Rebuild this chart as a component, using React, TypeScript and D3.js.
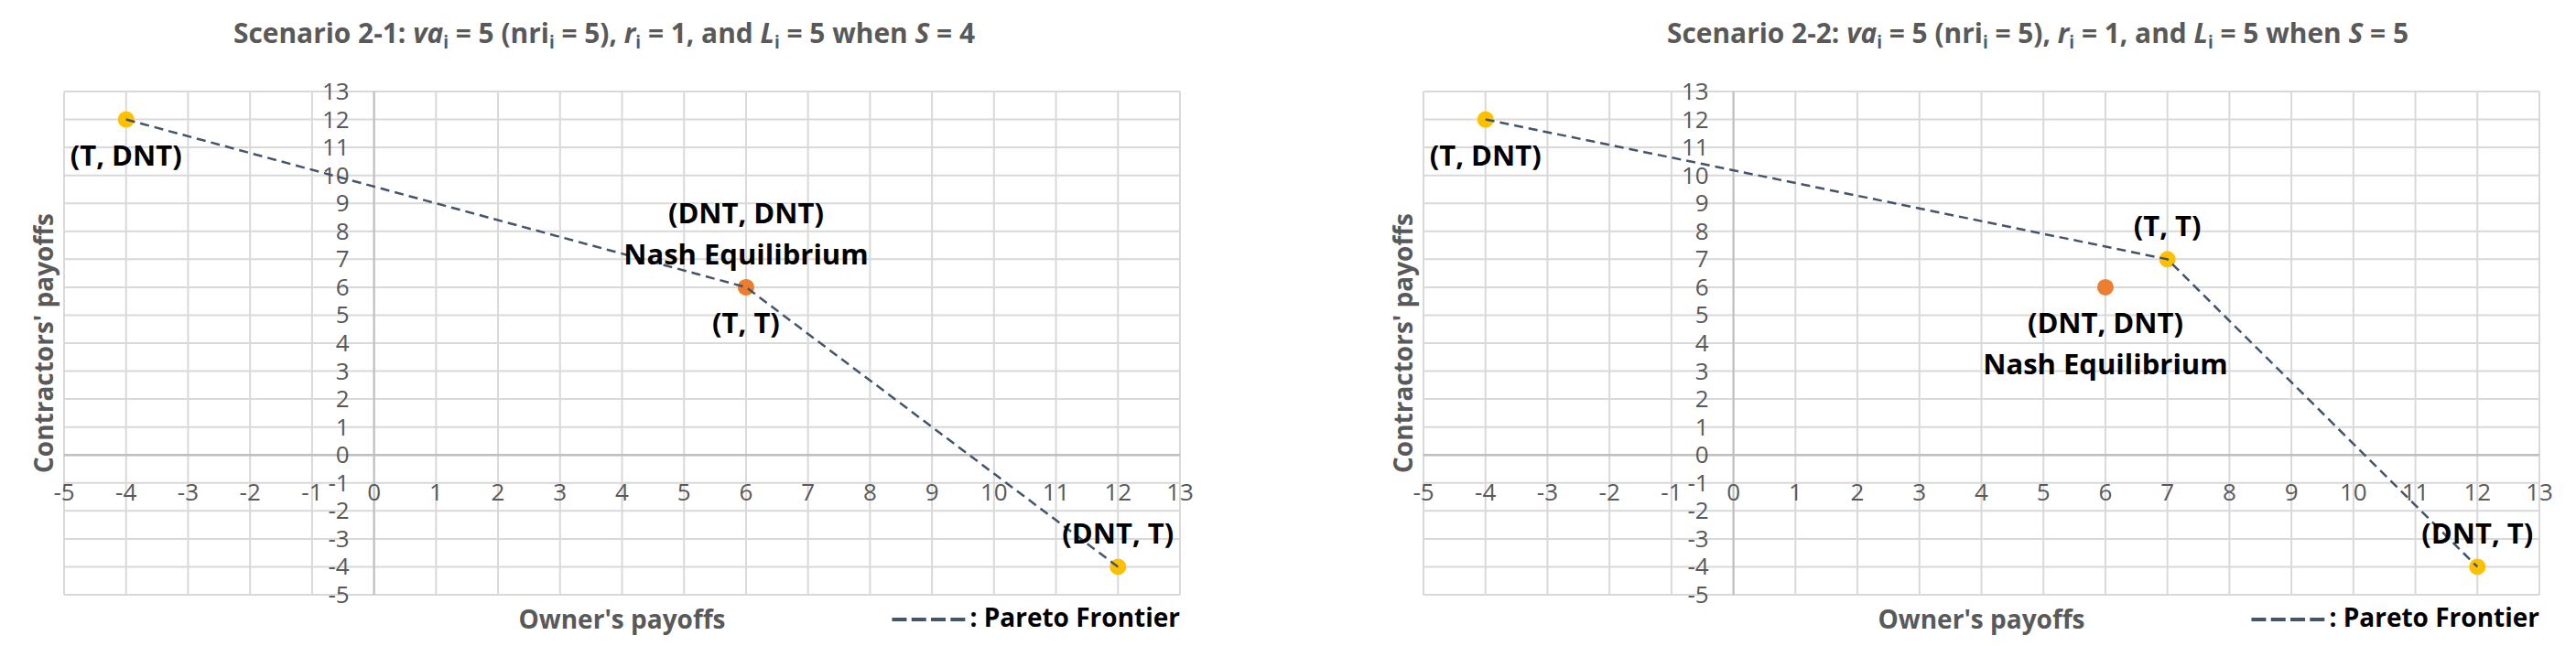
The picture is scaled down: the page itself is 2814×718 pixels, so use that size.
import React, { useEffect, useRef } from 'react';
import * as d3 from 'd3';

const W = 2814;
const H = 718;

// axis ticks (same on both charts)
const xTicks = [-5, -4, -3, -2, -1, 0, 1, 2, 3, 4, 5, 6, 7, 8, 9, 10, 11, 12, 13];
const yTicks = [-5, -4, -3, -2, -1, 0, 1, 2, 3, 4, 5, 6, 7, 8, 9, 10, 11, 12, 13];

// Scenario 2-1
const s1Title = [
  { t: 'Scenario 2-1: ' }, { t: 'va', it: true }, { t: 'i', sub: true },
  { t: ' = 5 (nri' }, { t: 'i', sub: true }, { t: ' = 5), ' },
  { t: 'r', it: true }, { t: 'i', sub: true }, { t: ' = 1, and ' },
  { t: 'L', it: true }, { t: 'i', sub: true }, { t: ' = 5 when ' },
  { t: 'S', it: true }, { t: ' = 4' },
];
const s1Outcomes = [
  { x: -4, y: 12, kind: 'pareto' },
  { x: 6, y: 6, kind: 'pareto' },
  { x: 12, y: -4, kind: 'pareto' },
  { x: 6, y: 6, kind: 'nash' },
];
const s1Frontier = [[-4, 12], [6, 6], [12, -4]];
const s1Labels = [
  { x: -4, y: 12, lines: ['(T, DNT)'], place: 'below' },
  { x: 6, y: 6, lines: ['(DNT, DNT)', 'Nash Equilibrium'], place: 'above' },
  { x: 6, y: 6, lines: ['(T, T)'], place: 'below' },
  { x: 12, y: -4, lines: ['(DNT, T)'], place: 'above' },
];

// Scenario 2-2
const s2Title = [
  { t: 'Scenario 2-2: ' }, { t: 'va', it: true }, { t: 'i', sub: true },
  { t: ' = 5 (nri' }, { t: 'i', sub: true }, { t: ' = 5), ' },
  { t: 'r', it: true }, { t: 'i', sub: true }, { t: ' = 1, and ' },
  { t: 'L', it: true }, { t: 'i', sub: true }, { t: ' = 5 when ' },
  { t: 'S', it: true }, { t: ' = 5' },
];
const s2Outcomes = [
  { x: -4, y: 12, kind: 'pareto' },
  { x: 7, y: 7, kind: 'pareto' },
  { x: 12, y: -4, kind: 'pareto' },
  { x: 6, y: 6, kind: 'nash' },
];
const s2Frontier = [[-4, 12], [7, 7], [12, -4]];
const s2Labels = [
  { x: -4, y: 12, lines: ['(T, DNT)'], place: 'below' },
  { x: 7, y: 7, lines: ['(T, T)'], place: 'above' },
  { x: 6, y: 6, lines: ['(DNT, DNT)', 'Nash Equilibrium'], place: 'below' },
  { x: 12, y: -4, lines: ['(DNT, T)'], place: 'above' },
];

const FONT = "'Open Sans', 'DejaVu Sans', sans-serif";
const GRAY = '#595959';

function drawChart(svg: any, cfg: any) {
  const { left, titleCx, title, outcomes, frontier, labels } = cfg;
  const g = svg.append('g');

  const x = d3.scaleLinear().domain([-5, 13]).range([left, left + 1219]);
  const y = d3.scaleLinear().domain([-5, 13]).range([650, 100]);

  // gridlines
  g.selectAll('line.vx').data(xTicks).enter().append('line')
    .attr('x1', d => x(d)).attr('x2', d => x(d))
    .attr('y1', y(13)).attr('y2', y(-5))
    .attr('stroke', '#d9d9d9').attr('stroke-width', 2);
  g.selectAll('line.hy').data(yTicks).enter().append('line')
    .attr('y1', d => y(d)).attr('y2', d => y(d))
    .attr('x1', x(-5)).attr('x2', x(13))
    .attr('stroke', '#d9d9d9').attr('stroke-width', 2);

  // axis lines through the origin
  g.append('line').attr('x1', x(0)).attr('x2', x(0)).attr('y1', y(13)).attr('y2', y(-5))
    .attr('stroke', '#bfbfbf').attr('stroke-width', 2);
  g.append('line').attr('x1', x(-5)).attr('x2', x(13)).attr('y1', y(0)).attr('y2', y(0))
    .attr('stroke', '#bfbfbf').attr('stroke-width', 2.5);

  // tick labels
  g.selectAll('text.yt').data(yTicks).enter().append('text')
    .attr('x', x(0) - 27).attr('y', d => y(d) + 9)
    .attr('text-anchor', 'end')
    .style('font-family', FONT).style('font-size', '26px').attr('fill', GRAY)
    .text(d => d);
  g.selectAll('text.xt').data(xTicks).enter().append('text')
    .attr('x', d => x(d)).attr('y', y(0) + 50)
    .attr('text-anchor', 'middle')
    .style('font-family', FONT).style('font-size', '26px').attr('fill', GRAY)
    .text(d => d);

  // outcome points (nash drawn last)
  const sorted = [...outcomes.filter((d: any) => d.kind === 'pareto'), ...outcomes.filter((d: any) => d.kind === 'nash')];
  g.selectAll('circle.pt').data(sorted).enter().append('circle')
    .attr('cx', (d: any) => x(d.x)).attr('cy', (d: any) => y(d.y)).attr('r', 9)
    .attr('fill', (d: any) => (d.kind === 'nash' ? '#ED7D31' : '#FFC000'));

  // pareto frontier
  const line = d3.line<any>().x(d => x(d[0])).y(d => y(d[1]));
  g.append('path').attr('d', line(frontier))
    .attr('fill', 'none').attr('stroke', '#44546A').attr('stroke-width', 2.5)
    .attr('stroke-dasharray', '10,6');

  // outcome labels
  labels.forEach((lb: any) => {
    const n = lb.lines.length;
    lb.lines.forEach((s: string, i: number) => {
      const off = lb.place === 'below' ? 39 + i * 45 : -36 - (n - 1 - i) * 45;
      g.append('text')
        .attr('x', x(lb.x)).attr('y', y(lb.y) + off + 11)
        .attr('text-anchor', 'middle')
        .style('font-family', FONT).style('font-size', '31px').style('font-weight', 'bold')
        .attr('fill', '#000')
        .text(s);
    });
  });

  // title
  const tt = g.append('text')
    .attr('x', titleCx).attr('y', 47)
    .attr('text-anchor', 'middle')
    .attr('textLength', 810).attr('lengthAdjust', 'spacingAndGlyphs')
    .style('font-family', FONT).style('font-size', '30px').style('font-weight', 'bold')
    .attr('fill', GRAY);
  let shifted = false;
  title.forEach((p: any) => {
    const ts = tt.append('tspan').text(p.t);
    if (p.it) ts.style('font-style', 'italic');
    if (p.sub) {
      ts.style('font-size', '19px').attr('dy', 6);
      shifted = true;
    } else if (shifted) {
      ts.attr('dy', -6);
      shifted = false;
    }
  });

  // axis titles
  g.append('text')
    .attr('x', (x(-5) + x(13)) / 2).attr('y', 687)
    .attr('text-anchor', 'middle')
    .style('font-family', FONT).style('font-size', '28px').style('font-weight', 'bold')
    .attr('fill', GRAY)
    .text("Owner's payoffs");
  g.append('text')
    .attr('transform', `translate(${left - 12},${(y(13) + y(-5)) / 2}) rotate(-90)`)
    .attr('text-anchor', 'middle')
    .style('font-family', FONT).style('font-size', '28px').style('font-weight', 'bold')
    .attr('fill', GRAY)
    .text("Contractors' payoffs");

  // legend
  const lt = g.append('text')
    .attr('x', x(13)).attr('y', 685)
    .attr('text-anchor', 'end')
    .style('font-family', FONT).style('font-size', '28px').style('font-weight', 'bold')
    .attr('fill', '#000')
    .text(': Pareto Frontier');
  const tw = (lt.node() as SVGTextElement).getComputedTextLength();
  const start = x(13) - tw;
  g.append('line')
    .attr('x1', start - 85).attr('x2', start - 5)
    .attr('y1', 677).attr('y2', 677)
    .attr('stroke', '#44546A').attr('stroke-width', 4)
    .attr('stroke-dasharray', '16,5.3');
}

export default function App() {
  const svgRef = useRef<SVGSVGElement>(null);

  useEffect(() => {
    const svg = d3.select(svgRef.current);
    svg.selectAll('*').remove();
    svg.append('rect').attr('width', W).attr('height', H).attr('fill', 'white');

    drawChart(svg, { left: 70, titleCx: 660, title: s1Title, outcomes: s1Outcomes, frontier: s1Frontier, labels: s1Labels });
    drawChart(svg, { left: 1555, titleCx: 2226, title: s2Title, outcomes: s2Outcomes, frontier: s2Frontier, labels: s2Labels });
  }, []);

  return (
    <svg ref={svgRef} width={W} height={H}
      style={{ position: 'absolute', left: 0, top: 0, display: 'block' }} />
  );
}
